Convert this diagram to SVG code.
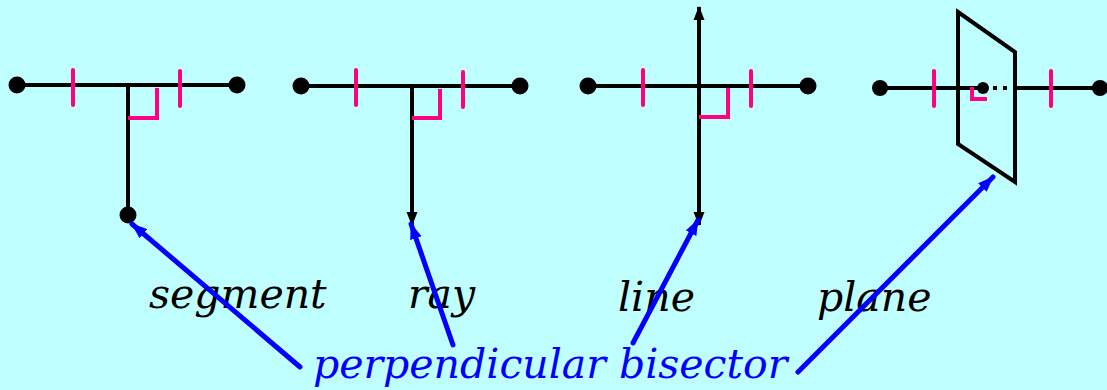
<svg xmlns="http://www.w3.org/2000/svg" width="1107" height="390" viewBox="0 0 1107 390">
<style>
.ln{stroke:#000;stroke-width:4;fill:none}
.pk{stroke:#FF0080;stroke-width:4;fill:none;stroke-linecap:round}
.ra{stroke:#FF0080;stroke-width:4;fill:none}
.dot{fill:#000}
.bl{stroke:#0000FF;stroke-width:5;fill:none;stroke-linecap:round}
.lbl{font-family:"DejaVu Serif","Liberation Serif",serif;font-style:italic;font-size:41px;fill:#000}
.blt{font-family:"DejaVu Serif","Liberation Serif",serif;font-style:italic;font-size:41px;fill:#0000FF}
</style>
<defs>
<marker id="ka" markerUnits="userSpaceOnUse" markerWidth="14" markerHeight="12" viewBox="0 0 14 12" refX="13" refY="6" orient="auto">
<path d="M0,0.5 L14,6 L0,11.5 Z" fill="#000"/>
</marker>
<marker id="ba" markerUnits="userSpaceOnUse" markerWidth="16" markerHeight="13" viewBox="0 0 16 13" refX="15" refY="6.5" orient="auto">
<path d="M0,0.5 L16,6.5 L0,12.5 Z" fill="#0000FF"/>
</marker>
</defs>
<rect x="0" y="0" width="1107" height="390" fill="#C0FFFF"/>

<g id="segment">
<line class="ln" x1="17" y1="85" x2="237" y2="85"/>
<line class="ln" x1="128" y1="85" x2="128" y2="215"/>
<circle class="dot" cx="17" cy="85" r="8.5"/>
<circle class="dot" cx="237" cy="85" r="8.5"/>
<circle class="dot" cx="128" cy="215" r="8.5"/>
<line class="pk" x1="73" y1="70" x2="73" y2="105"/>
<line class="pk" x1="180" y1="71" x2="180" y2="106"/>
<path class="ra" d="M128,118 H157 V88"/>
<text class="lbl" x="149" y="308">segment</text>
</g>

<g id="ray">
<line class="ln" x1="301" y1="86" x2="520" y2="86"/>
<line class="ln" x1="412" y1="86" x2="412" y2="225" marker-end="url(#ka)"/>
<circle class="dot" cx="301" cy="86" r="8.5"/>
<circle class="dot" cx="520" cy="86" r="8.5"/>
<line class="pk" x1="356" y1="70" x2="356" y2="105"/>
<line class="pk" x1="463" y1="72" x2="463" y2="107"/>
<path class="ra" d="M412,118 H440 V89"/>
<text class="lbl" x="408" y="308">ray</text>
</g>

<g id="line">
<line class="ln" x1="588" y1="86" x2="808" y2="86"/>
<line class="ln" x1="699" y1="118" x2="699" y2="7" marker-end="url(#ka)"/>
<line class="ln" x1="699" y1="110" x2="699" y2="225" marker-end="url(#ka)"/>
<circle class="dot" cx="588" cy="86" r="8.5"/>
<circle class="dot" cx="808" cy="86" r="8.5"/>
<line class="pk" x1="643" y1="70" x2="643" y2="105"/>
<line class="pk" x1="751" y1="71" x2="751" y2="106"/>
<path class="ra" d="M699,117 H728 V88"/>
<text class="lbl" x="618" y="311">line</text>
</g>

<g id="plane">
<polygon class="ln" points="958,12 1015,52 1015,182 958,144"/>
<line class="ln" x1="880" y1="88" x2="983" y2="88"/>
<line class="ln" x1="993" y1="88" x2="1012" y2="88" stroke-dasharray="4 6"/>
<line class="ln" x1="1015" y1="88" x2="1100" y2="88"/>
<circle class="dot" cx="880" cy="88" r="8"/>
<circle class="dot" cx="1100" cy="88" r="8"/>
<circle class="dot" cx="983" cy="88" r="6"/>
<line class="pk" x1="934" y1="71" x2="934" y2="106"/>
<line class="pk" x1="1051" y1="71" x2="1051" y2="106"/>
<path class="ra" d="M972,87 V99 H987"/>
<text class="lbl" x="817" y="311">plane</text>
</g>

<g id="connectors">
<line class="bl" x1="300" y1="367" x2="132" y2="224" marker-end="url(#ba)"/>
<line class="bl" x1="453" y1="345" x2="411" y2="224" marker-end="url(#ba)"/>
<line class="bl" x1="633" y1="343" x2="698" y2="220" marker-end="url(#ba)"/>
<line class="bl" x1="798" y1="372" x2="993" y2="177" marker-end="url(#ba)"/>
</g>

<g id="label">
<text class="blt" x="313" y="378">perpendicular bisector</text>
</g>
</svg>
